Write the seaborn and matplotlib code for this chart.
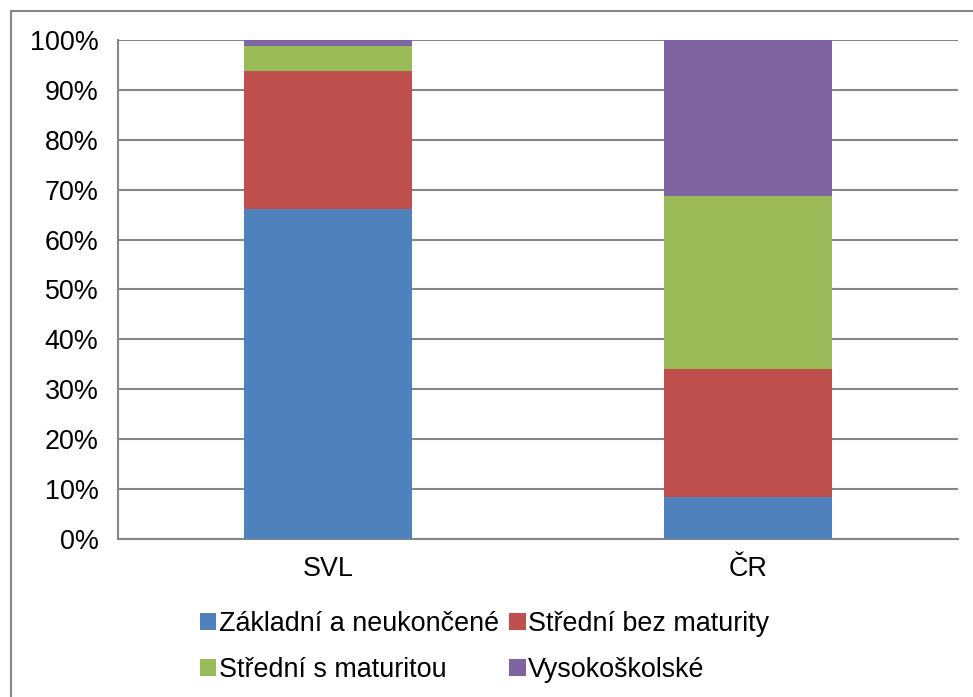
import numpy as np
import pandas as pd
import matplotlib
matplotlib.use("Agg")
import matplotlib.pyplot as plt
import seaborn as sns
from matplotlib.patches import Patch
from matplotlib.lines import Line2D

# -----------------------------------------------------------------------------
# data (percent share)
regions = ["SVL", "ČR"]
zakladni = [66.1, 8.4]
stredni_bez = [27.7, 25.7]
stredni_s = [5.0, 34.6]
vysokoskolske = [1.2, 31.3]

labels = ["Základní a neukončené", "Střední bez maturity",
          "Střední s maturitou", "Vysokoškolské"]
colors = ["#4F81BD", "#C0504D", "#9BBB59", "#8064A2"]

# -----------------------------------------------------------------------------
sns.set_theme(style="white")
plt.rcParams["font.family"] = ["Liberation Sans", "DejaVu Sans"]
plt.rcParams["text.color"] = "black"
plt.rcParams["xtick.color"] = "black"
plt.rcParams["ytick.color"] = "black"

df = pd.DataFrame({"region": regions, labels[0]: zakladni, labels[1]: stredni_bez,
                   labels[2]: stredni_s, labels[3]: vysokoskolske})
cum = df[labels].cumsum(axis=1)

fig = plt.figure(figsize=(9.73, 6.97), dpi=100)
ax = fig.add_axes([0.1213, 0.2267, 0.8633, 0.7159])

# stacked bars: draw the tallest cumulative first, then cover it
for lab, col in reversed(list(zip(labels, colors))):
    sns.barplot(x=df["region"], y=cum[lab], color=col, width=0.4,
                saturation=1, linewidth=0, ax=ax, zorder=3)

ax.set_ylim(0, 100)
ax.set_xlim(-0.5, 1.5)
ax.set_yticks(np.arange(0, 101, 10))
ax.set_yticklabels([f"{v}%" for v in range(0, 101, 10)], fontsize=19.4)
ax.set_xticks([-0.5, 0.5, 1.5], minor=False)
ax.set_xticks([0, 1], minor=True)
ax.set_xticklabels(["", "", ""])
ax.set_xticklabels(regions, minor=True, fontsize=19.4)
ax.tick_params(axis="x", which="minor", length=0, pad=12)
ax.tick_params(axis="x", which="major", length=8, width=1.5, color="#868686", direction="out")
ax.tick_params(axis="y", length=8, width=1.5, color="#868686", direction="out", pad=6)
ax.set_xlabel("")
ax.set_ylabel("")
ax.yaxis.grid(True, color="#868686", linewidth=1.5, zorder=0)
ax.set_axisbelow(True)
for s in ["top", "right"]:
    ax.spines[s].set_visible(False)
for s in ["left", "bottom"]:
    ax.spines[s].set_color("#868686")
    ax.spines[s].set_linewidth(1.5)

# legend below the plot, filled row by row
handles = [Patch(facecolor=c, edgecolor="none", label=l) for l, c in zip(labels, colors)]
order = [0, 2, 1, 3]
fig.legend(handles=[handles[i] for i in order], loc="center", bbox_to_anchor=(0.498, 0.072),
           ncol=2, frameon=False, fontsize=19.4, handlelength=0.6, handleheight=0.6,
           handletextpad=0.08, columnspacing=0.4, labelspacing=0.75)

# chart area border (only top and left visible)
fig.add_artist(Line2D([10.5 / 973, 1.0], [1 - 10.5 / 697] * 2, transform=fig.transFigure,
                      color="#868686", linewidth=1.5))
fig.add_artist(Line2D([10.5 / 973] * 2, [0.0, 1 - 10.5 / 697], transform=fig.transFigure,
                      color="#868686", linewidth=1.5))

fig.savefig("out.png", dpi=100)
